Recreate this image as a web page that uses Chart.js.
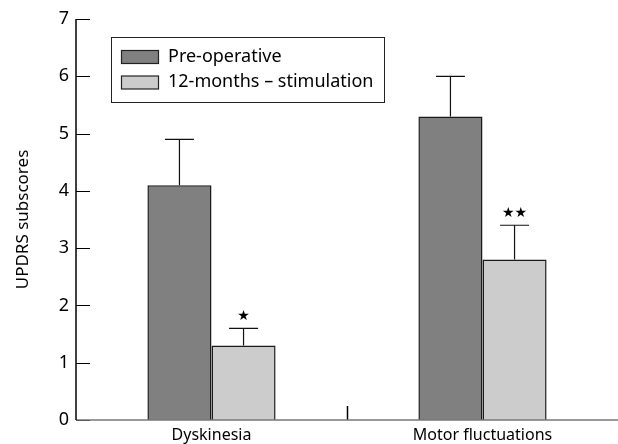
<!DOCTYPE html>
<html>
<head>
<meta charset="utf-8">
<script src="https://cdn.jsdelivr.net/npm/chart.js@4"></script>
<style>
  html, body { margin: 0; padding: 0; background: #fff; }
  #wrap { width: 618px; height: 444px; position: relative; }
</style>
</head>
<body>
<div id="wrap"><canvas id="chart"></canvas></div>
<script>
// data
var categories = ["Dyskinesia", "Motor fluctuations"];
var seriesNames = ["Pre-operative", "12-months \u2013 stimulation"];
var preOp = [4.1, 5.3];
var preOpErr = [0.8, 0.7];
var stim = [1.3, 2.8];
var stimErr = [0.3, 0.6];
var stimMarks = ["\u2605", "\u2605\u2605"];
var yTicks = [0, 1, 2, 3, 4, 5, 6, 7];

var FONT = "'Noto Sans', sans-serif";

// error bars, significance stars, inside ticks and boxed legend
var extras = {
	id: "extras",
	afterDatasetsDraw: function(chart){
		var ctx = chart.ctx;
		var ys = chart.scales.y;
		var xs = chart.scales.x;
		var area = chart.chartArea;
		var errs = [preOpErr, stimErr];
		ctx.save();
		ctx.strokeStyle = "#111";
		ctx.lineWidth = 1.2;
		for(var d = 0; d < 2; d++){
			var meta = chart.getDatasetMeta(d);
			var vals = chart.data.datasets[d].data;
			for(var i = 0; i < vals.length; i++){
				var x = meta.data[i].x;
				var y0 = ys.getPixelForValue(vals[i]);
				var y1 = ys.getPixelForValue(vals[i] + errs[d][i]);
				ctx.beginPath();
				ctx.moveTo(x, y0);
				ctx.lineTo(x, y1);
				ctx.moveTo(x - 14.5, y1);
				ctx.lineTo(x + 14.5, y1);
				ctx.stroke();
				if(d == 1 && stimMarks[i]){
					ctx.fillStyle = "#000";
					ctx.font = "14px 'DejaVu Sans'";
					ctx.textAlign = "center";
					ctx.textBaseline = "middle";
					ctx.fillText(stimMarks[i], x, y1 - 12);
				}
			}
		}
		// y ticks pointing inward
		ctx.strokeStyle = "#000";
		ctx.lineWidth = 1;
		for(var t = 0; t < yTicks.length; t++){
			var yy = Math.round(ys.getPixelForValue(yTicks[t])) + 0.5;
			ctx.beginPath();
			ctx.moveTo(area.left, yy);
			ctx.lineTo(area.left + 14, yy);
			ctx.stroke();
		}
		// x tick between the two groups
		var xm = Math.round((xs.getPixelForValue(0) + xs.getPixelForValue(1)) / 2) + 0.5;
		ctx.lineWidth = 1.5;
		ctx.beginPath();
		ctx.moveTo(xm, area.bottom);
		ctx.lineTo(xm, area.bottom - 14);
		ctx.stroke();
		// axes lines
		ctx.strokeStyle = "#777";
		ctx.lineWidth = 1.5;
		ctx.beginPath();
		ctx.moveTo(area.left, area.bottom);
		ctx.lineTo(area.right, area.bottom);
		ctx.stroke();
		ctx.strokeStyle = "#000";
		ctx.beginPath();
		ctx.moveTo(area.left, area.top);
		ctx.lineTo(area.left, area.bottom);
		ctx.stroke();

		// boxed legend
		var lx = 111.5, ly = 37.5, lw = 273, lh = 65;
		ctx.strokeStyle = "#222";
		ctx.lineWidth = 1;
		ctx.strokeRect(lx, ly, lw, lh);
		var ds = chart.data.datasets;
		ctx.font = "18px " + FONT;
		ctx.textAlign = "left";
		ctx.textBaseline = "middle";
		for(var k = 0; k < ds.length; k++){
			var sy = 50.5 + k * 25.5;
			ctx.fillStyle = ds[k].backgroundColor;
			ctx.fillRect(121.5, sy, 37, 13);
			ctx.strokeStyle = "#222";
			ctx.lineWidth = 1.2;
			ctx.strokeRect(121.5, sy, 37, 13);
			ctx.fillStyle = "#000";
			ctx.fillText(ds[k].label, 168, sy + 6);
		}
		ctx.restore();
	}
};

var ctx = document.getElementById("chart").getContext("2d");
var myChart = new Chart(ctx, {
	type: "bar",
	data: {
		labels: categories,
		datasets: [{
			label: seriesNames[0],
			data: preOp,
			backgroundColor: "#808080",
			borderColor: "#1a1a1a",
			borderWidth: 1.5
		}, {
			label: seriesNames[1],
			data: stim,
			backgroundColor: "#cccccc",
			borderColor: "#1a1a1a",
			borderWidth: 1.5
		}]
	},
	plugins: [extras],
	options: {
		responsive: true,
		maintainAspectRatio: false,
		animation: false,
		layout: { padding: { top: 19, right: 0, left: 13, bottom: 0 } },
		plugins: {
			legend: { display: false },
			tooltip: { enabled: false }
		},
		datasets: {
			bar: { barPercentage: 1.0, categoryPercentage: 0.473 }
		},
		scales: {
			x: {
				grid: { display: false, drawTicks: false },
				border: { display: false },
				ticks: {
					color: "#000",
					font: { family: FONT, size: 16 },
					padding: 6
				},
				afterFit: function(scale){ scale.height = 24; }
			},
			y: {
				min: 0,
				max: 7,
				afterBuildTicks: function(scale){
					scale.ticks = yTicks.map(function(v){ return { value: v }; });
				},
				grid: { display: false, drawTicks: false },
				border: { display: false },
				ticks: {
					color: "#000",
					font: { family: FONT, size: 18 },
					padding: 7
				},
				title: {
					display: true,
					text: "UPDRS subscores",
					color: "#000",
					font: { family: FONT, size: 17 },
					padding: 0
				},
				afterFit: function(scale){ scale.width = 63; }
			}
		}
	}
});
</script>
</body>
</html>
